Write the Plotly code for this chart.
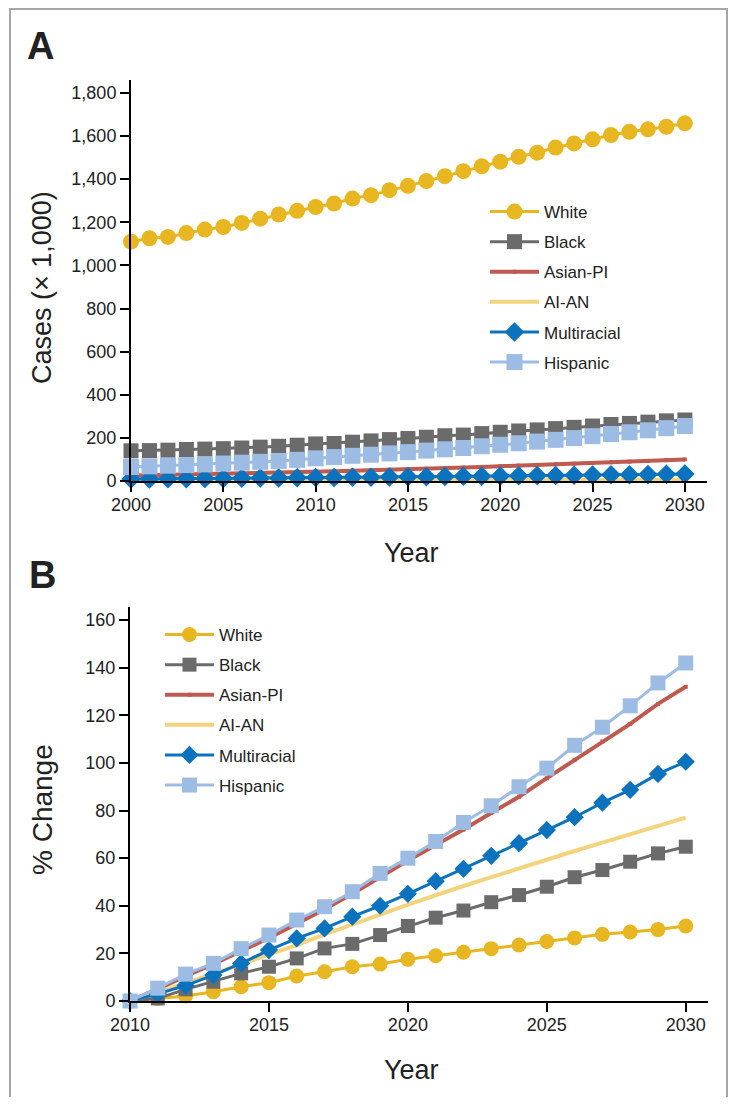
import plotly.graph_objects as go

# ---------------- DATA ----------------
years_a = list(range(2000, 2031))
white_a = [1110, 1126, 1132, 1150, 1166, 1178, 1197, 1217, 1236, 1253, 1271, 1287, 1310, 1326,
           1349, 1369, 1391, 1414, 1437, 1460, 1481, 1504, 1523, 1547, 1566, 1585, 1605, 1620,
           1631, 1643, 1659]
black_a = [140, 141, 143, 146, 148, 150, 153, 157, 161, 166, 172, 174, 180, 186, 192, 197, 203,
           210, 213, 220, 226, 232, 237, 243, 249, 255, 262, 267, 273, 279, 283]
asianpi_a = [25, 26.5, 28, 29.5, 31, 33, 35, 37, 39, 41, 43, 45, 47.5, 49.5, 52, 54.5, 57, 59.5,
             62, 65.5, 68.5, 71.5, 74.5, 77.5, 80, 83.5, 87, 90, 93, 96.5, 100]
aian_a = [3.0, 3.0, 3.1, 3.1, 3.2, 3.2, 3.3, 3.3, 3.4, 3.4, 3.5, 3.6, 3.7, 3.8, 3.9, 4.2, 4.3,
          4.5, 4.6, 4.8, 4.9, 5.1, 5.2, 5.3, 5.5, 5.6, 5.7, 5.8, 6.0, 6.1, 6.2]
multi_a = [9, 9.5, 10, 11, 11.5, 12, 12.5, 13.5, 14, 15, 16, 16.5, 17, 17.5, 18.5, 19.5, 20, 21,
           21.5, 22.5, 23, 24, 25, 26, 26.5, 27.5, 28.5, 29.5, 30, 31, 32]
hisp_a = [65, 68, 71, 74, 77, 81, 85, 89, 93, 98, 105, 111, 117, 122, 128, 134, 141, 147, 153,
          161, 168, 175, 183, 191, 199, 208, 218, 226, 235, 245, 255]

years_b = list(range(2010, 2031))
white_b = [0, 1, 2.1, 3.9, 6, 7.7, 10.5, 12.3, 14.4, 15.5, 17.5, 19, 20.5, 22, 23.5, 25, 26.5,
           28, 29, 30, 31.5]
black_b = [0, 1.1, 4.9, 8.1, 11.6, 14.4, 17.9, 22.1, 24, 27.7, 31.5, 35, 38, 41.5, 44.5, 48,
           52, 55, 58.5, 62, 64.8]
asianpi_b = [0, 5, 10.5, 15.5, 21, 26.5, 32.5, 38.5, 45, 52, 59, 65.5, 72, 79, 85.8, 93.6,
             101.3, 109, 116.4, 124.8, 132]
aian_b = [0, 3.5, 7.5, 11.5, 15.5, 19.3, 23.5, 28, 32, 36.3, 40.5, 44.5, 48.3, 52, 55.8, 59.5,
          63, 66.5, 70, 73.5, 77]
multi_b = [0, 3, 6.5, 10.9, 15.8, 21.4, 26.3, 30.5, 35.4, 40, 45, 50.3, 55.5, 61, 66.3, 71.8,
           77.2, 83.3, 88.7, 95.4, 100.5]
hisp_b = [0, 5.4, 11.3, 15.8, 22, 27.7, 34, 39.6, 45.9, 53.6, 60, 67, 75, 82, 90, 97.8, 107.4,
          115, 124, 133.6, 142]

names = ["White", "Black", "Asian-PI", "AI-AN", "Multiracial", "Hispanic"]
xticks_a = [2000, 2005, 2010, 2015, 2020, 2025, 2030]
yticks_a = [0, 200, 400, 600, 800, 1000, 1200, 1400, 1600, 1800]
xticks_b = [2010, 2015, 2020, 2025, 2030]
yticks_b = [0, 20, 40, 60, 80, 100, 120, 140, 160]

# ---------------- STYLE ----------------
FONT = "Liberation Sans, Arial, sans-serif"
TXT = "#222222"
C_WHITE = "#E8B620"
C_BLACK = "#6B6B6B"
C_ASIAN = "#BE5A50"
C_AIAN = "#F3D37C"
C_MULTI = "#0B73BD"
C_HISP = "#9DBCE4"

# page body has an 8px margin: figure is drawn at (8,8) in the window
OFF = 8
W, H = 736 - 2 * OFF, 1105 - 2 * OFF


def px(xp):
    return (xp - OFF) / W


def py(yp):
    return 1 - (yp - OFF) / H


series_a = [white_a, black_a, asianpi_a, aian_a, multi_a, hisp_a]
series_b = [white_b, black_b, asianpi_b, aian_b, multi_b, hisp_b]

styles = [
    dict(color=C_WHITE, mode="lines+markers", symbol="circle", size=16, width=3),
    dict(color=C_BLACK, mode="lines+markers", symbol="square", size=15, width=3),
    dict(color=C_ASIAN, mode="lines+markers", symbol="square", size=4, width=4),
    dict(color=C_AIAN, mode="lines", symbol="circle", size=1, width=4),
    dict(color=C_MULTI, mode="lines+markers", symbol="diamond", size=15, width=3),
    dict(color=C_HISP, mode="lines+markers", symbol="square", size=16, width=3),
]

fig = go.Figure()

for i, (nm, ys, st) in enumerate(zip(names, series_a, styles)):
    fig.add_trace(go.Scatter(
        x=years_a, y=ys, name=nm, mode=st["mode"],
        line=dict(color=st["color"], width=st["width"]),
        marker=dict(color=st["color"], symbol=st["symbol"], size=st["size"]),
        xaxis="x", yaxis="y", legend="legend", legendgroup="a%d" % i,
        cliponaxis=False,
    ))

for i, (nm, ys, st) in enumerate(zip(names, series_b, styles)):
    sz = st["size"] if st["size"] < 10 else st["size"] - 1
    fig.add_trace(go.Scatter(
        x=years_b, y=ys, name=nm, mode=st["mode"],
        line=dict(color=st["color"], width=st["width"]),
        marker=dict(color=st["color"], symbol=st["symbol"], size=sz),
        xaxis="x2", yaxis="y2", legend="legend2", legendgroup="b%d" % i,
        cliponaxis=False,
    ))

axis_common = dict(
    showgrid=False, zeroline=False, showline=True, linecolor="black", linewidth=2,
    ticks="outside", ticklen=9, tickwidth=2, tickcolor="black",
    tickfont=dict(family=FONT, size=18, color=TXT), automargin=False,
)

LEGFONT = dict(family=FONT, size=17, color=TXT)

fig.update_layout(
    width=W, height=H,
    margin=dict(l=0, r=0, t=0, b=0),
    paper_bgcolor="white", plot_bgcolor="white",
    xaxis=dict(domain=[px(131), px(707)], range=[2000, 2031.2], anchor="y",
               tickvals=xticks_a, ticklabelstandoff=-3, **axis_common),
    yaxis=dict(domain=[py(481), py(80)], range=[0, 1860], anchor="x",
               tickvals=yticks_a, tickformat=",", **axis_common),
    xaxis2=dict(domain=[px(130), px(708)], range=[2010, 2030.8], anchor="y2",
                tickvals=xticks_b, ticklabelstandoff=-3, **axis_common),
    yaxis2=dict(domain=[py(1001), py(607)], range=[0, 165.5], anchor="x2",
                tickvals=yticks_b, **axis_common),
    legend=dict(x=px(485), y=py(194), xanchor="left", yanchor="top",
                font=LEGFONT, tracegroupgap=5,
                bgcolor="rgba(0,0,0,0)", itemwidth=49),
    legend2=dict(x=px(160), y=py(617), xanchor="left", yanchor="top",
                 font=LEGFONT, tracegroupgap=5,
                 bgcolor="rgba(0,0,0,0)", itemwidth=49),
    showlegend=True,
)

ann = [
    dict(text="<b>A</b>", x=px(40), y=py(46), font=dict(family=FONT, size=38, color=TXT)),
    dict(text="<b>B</b>", x=px(42), y=py(575), font=dict(family=FONT, size=38, color=TXT)),
    dict(text="Cases (× 1,000)", x=px(42), y=py(288), textangle=-90,
         font=dict(family=FONT, size=27, color=TXT)),
    dict(text="Year", x=px(411), y=py(553), font=dict(family=FONT, size=27, color=TXT)),
    dict(text="% Change", x=px(42), y=py(810), textangle=-90,
         font=dict(family=FONT, size=28, color=TXT)),
    dict(text="Year", x=px(411), y=py(1070), font=dict(family=FONT, size=27, color=TXT)),
]
for a in ann:
    fig.add_annotation(xref="paper", yref="paper", showarrow=False,
                       xanchor="center", yanchor="middle", **a)

# outer frame
fig.add_shape(type="rect", xref="paper", yref="paper",
              x0=px(10), x1=px(727), y0=py(1120), y1=py(9),
              line=dict(color="#A6A6A6", width=2))

fig.write_html("out.html")
